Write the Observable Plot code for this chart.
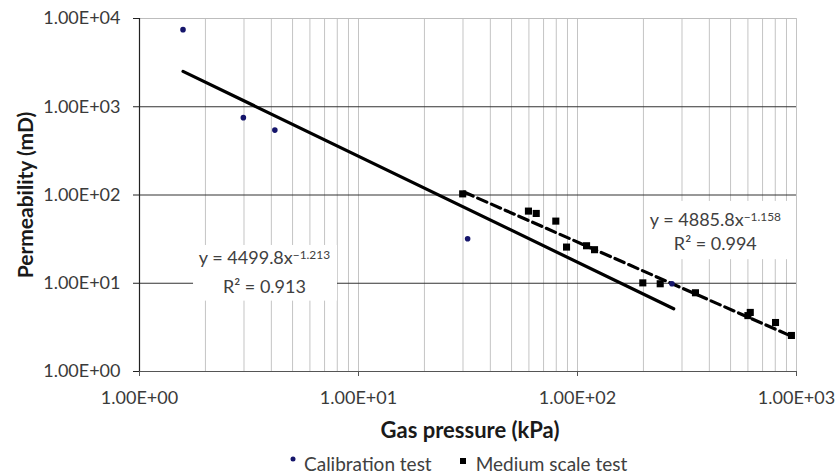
<!DOCTYPE html>
<html>
<head>
<meta charset="utf-8">
<script src="https://cdn.jsdelivr.net/npm/d3@7"></script>
<script src="https://cdn.jsdelivr.net/npm/@observablehq/plot@0.6"></script>
<style>
  html, body { margin: 0; padding: 0; background: #fff; }
  #chart { width: 836px; }
  .legend { display: flex; align-items: center; font-family: Lato, sans-serif; font-size: 19px; color: #404040; padding-left: 289px; height: 26px; }
  .legend .item { display: flex; align-items: center; margin-right: 28px; }
  .legend svg { margin-right: 7px; }
</style>
</head>
<body>
<div id="chart"></div>
<script>
// ---- Data ----
const calX = [1.58, 2.98, 4.15, 31.5, 270];
const calY = [7480, 752, 544, 31.9, 9.87];

const medX = [29.9, 59.7, 64.8, 79.6, 89.1, 110, 119.6, 198.7, 238.6, 345.7, 600, 615, 802, 948];
const medY = [103, 65.7, 61.8, 50.6, 25.7, 26.6, 24.0, 10.1, 9.87, 7.80, 4.3, 4.67, 3.59, 2.56];

// trend-line endpoints (power-law fits are straight in log-log)
const calTrendX = [1.58, 275];
const calTrendY = [2520, 5.14];
const medTrendX = [30.3, 955];
const medTrendY = [108, 2.49];

// equations
const eqMain = ["y = 4499.8x", "y = 4885.8x"];
const eqExp = ["\u22121.213", "\u22121.158"];
const eqR2 = ["R\u00b2 = 0.913", "R\u00b2 = 0.994"];
const eqX = [3.72, 426];
const eqY1 = [19.1, 51.5];
const eqY2 = [8.96, 27.5];
const boxX1 = [1.765, 204.5];
const boxX2 = [8.02, 939];
const boxY1 = [6.27, 18.5];
const boxY2 = [26.8, 84.6];

// axes
const xTickValues = [1, 10, 100, 1000];
const xTickLabels = ["1.00E+00", "1.00E+01", "1.00E+02", "1.00E+03"];
const yTickValues = [1, 10, 100, 1000, 10000];
const yTickLabels = ["1.00E+00", "1.00E+01", "1.00E+02", "1.00E+03", "1.00E+04"];
const xTitle = "Gas pressure (kPa)";
const yTitle = "Permeability (mD)";
const seriesNames = ["Calibration test", "Medium scale test"];

// ---- build tables ----
const cal = calX.map((x, i) => ({x, y: calY[i]}));
const med = medX.map((x, i) => ({x, y: medY[i]}));
const calTrend = calTrendX.map((x, i) => ({x, y: calTrendY[i]}));
const medTrend = medTrendX.map((x, i) => ({x, y: medTrendY[i]}));
const eqs = eqMain.map((t, i) => ({t, r2: eqR2[i], x: eqX[i], y1: eqY1[i], y2: eqY2[i], bx1: boxX1[i], bx2: boxX2[i], by1: boxY1[i], by2: boxY2[i]}));

const minorGrid = [];
for (const dec of [1, 10, 100]) for (let k = 2; k <= 10; k++) minorGrid.push(dec * k);

const plot = Plot.plot({
  width: 836,
  height: 450,
  marginLeft: 139,
  marginRight: 40,
  marginTop: 18,
  marginBottom: 79,
  x: {type: "log", domain: [1, 1000]},
  y: {type: "log", domain: [1, 10000]},
  style: {fontFamily: "Lato, sans-serif", background: "#fff", color: "#3a3a3a", overflow: "visible"},
  marks: [
    Plot.ruleX(minorGrid, {stroke: "#c4c4c4", strokeWidth: 1}),
    Plot.ruleY([10000], {stroke: "#bdbdbd", strokeWidth: 1}),
    Plot.ruleY([10, 100, 1000], {stroke: "#333", strokeWidth: 1.2}),
    Plot.rect(eqs, {x1: "bx1", x2: "bx2", y1: "by1", y2: "by2", fill: "#fff"}),
    Plot.ruleY([1], {stroke: "#555", strokeWidth: 1.2}),
    Plot.ruleX([1], {stroke: "#222", strokeWidth: 1.2}),
    Plot.axisX({ticks: xTickValues, tickFormat: d => xTickLabels[xTickValues.indexOf(d)], tickSize: 5, tickPadding: 15, fontSize: 18, label: null, stroke: "#555"}),
    Plot.axisY({ticks: yTickValues, tickFormat: d => yTickLabels[yTickValues.indexOf(d)], tickSize: 6, tickPadding: 13, fontSize: 18, label: null, stroke: "#222"}),
    Plot.text([xTitle], {text: d => d, frameAnchor: "bottom", lineAnchor: "middle", textAnchor: "middle", dx: 2, dy: 59, fontSize: 22, fontWeight: "bold", fill: "#1a1a1a"}),
    Plot.text([yTitle], {text: d => d, frameAnchor: "left", lineAnchor: "middle", textAnchor: "middle", dx: -113, rotate: -90, fontSize: 21, fontWeight: "bold", fill: "#1a1a1a"}),
    Plot.line(calTrend, {x: "x", y: "y", stroke: "#000", strokeWidth: 3.2}),
    Plot.line(medTrend, {x: "x", y: "y", stroke: "#000", strokeWidth: 3.2, strokeDasharray: "10,5"}),
    Plot.dot(cal, {x: "x", y: "y", r: 2.8, fill: "#15156b", stroke: "none"}),
    Plot.dot(med, {x: "x", y: "y", symbol: "square", r: 4, fill: "#000", stroke: "none"}),
    Plot.text(eqs, {x: "x", y: "y1", text: "t", fontSize: 18, fill: "#404040"}),
    Plot.text(eqs, {x: "x", y: "y2", text: "r2", fontSize: 18, fill: "#404040"})
  ]
});

// superscript exponents on the equation lines
const ns = "http://www.w3.org/2000/svg";
plot.querySelectorAll("text").forEach(t => {
  const idx = eqMain.indexOf(t.textContent);
  if (idx >= 0) {
    const ts = document.createElementNS(ns, "tspan");
    ts.setAttribute("dy", "-0.45em");
    ts.setAttribute("font-size", "0.66em");
    ts.textContent = eqExp[idx];
    t.appendChild(ts);
  }
});

document.getElementById("chart").appendChild(plot);

// legend
const legend = document.createElement("div");
legend.className = "legend";
legend.innerHTML =
  `<div class="item"><svg width="8" height="20"><circle cx="4" cy="6" r="2.5" fill="#15156b"/></svg>${seriesNames[0]}</div>` +
  `<div class="item"><svg width="9" height="20"><rect x="0" y="5" width="6" height="6" fill="#000"/></svg>${seriesNames[1]}</div>`;
document.getElementById("chart").appendChild(legend);
</script>
</body>
</html>
